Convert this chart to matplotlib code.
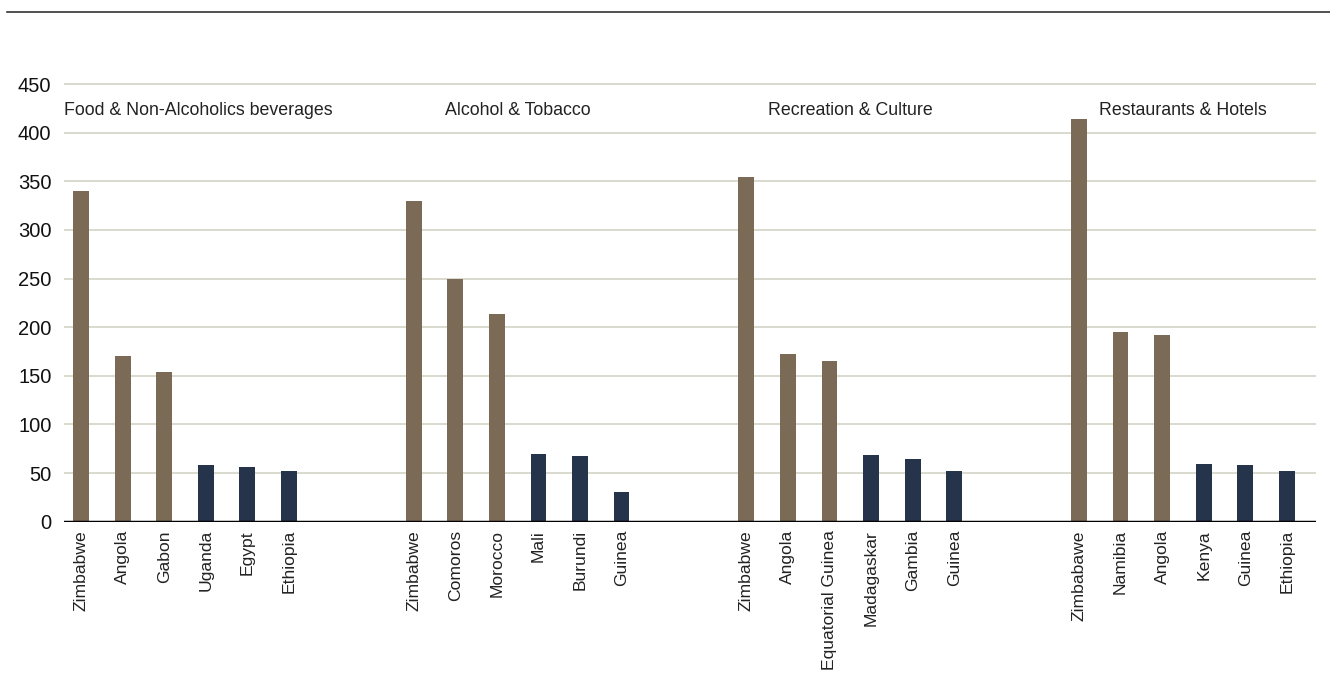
import numpy as np
import matplotlib.pyplot as plt

plt.rcParams['font.family'] = ['Liberation Sans', 'DejaVu Sans']

# price levels by spending category, six countries per category
groups = ['Food & Non-Alcoholics beverages', 'Alcohol & Tobacco',
          'Recreation & Culture', 'Restaurants & Hotels']
countries = [
    ['Zimbabwe', 'Angola', 'Gabon', 'Uganda', 'Egypt', 'Ethiopia'],
    ['Zimbabwe', 'Comoros', 'Morocco', 'Mali', 'Burundi', 'Guinea'],
    ['Zimbabwe', 'Angola', 'Equatorial Guinea', 'Madagaskar', 'Gambia', 'Guinea'],
    ['Zimbabawe', 'Namibia', 'Angola', 'Kenya', 'Guinea', 'Ethiopia'],
]
values = [
    [340, 170, 154, 58, 56, 52],
    [330, 250, 214, 70, 68, 31],
    [354, 172, 165, 69, 64, 52],
    [414, 195, 192, 59, 58, 52],
]
# first three of each group are the most expensive, last three the cheapest
high_col = '#7b6a55'
low_col = '#26344b'

fig = plt.figure(figsize=(13.3, 6.77), dpi=100)
ax = fig.add_axes([64/1330, 1 - 521.7/677, (1316-64)/1330, 437.7/677 * 500/450])

xs, labels = [], []
for g in range(len(groups)):
    pos = np.arange(6) + g * 8
    cols = [high_col]*3 + [low_col]*3
    ax.bar(pos, values[g], width=0.38, color=cols, zorder=3)
    xs.extend(pos)
    labels.extend(countries[g])
    if g == 0:
        ax.text(-0.41, 423, groups[g], ha='left', va='center', fontsize=12.8, color='#222222')
    else:
        ax.text(pos.mean(), 423, groups[g], ha='center', va='center', fontsize=12.8, color='#222222')

ax.set_xlim(-0.41, 29.7)
ax.set_ylim(0, 500)
ax.set_yticks(np.arange(0, 451, 50))
ax.set_xticks(xs)
ax.set_xticklabels(labels, rotation=90, fontsize=12.6, color='#222222')
ax.tick_params(axis='x', length=0, pad=6)
ax.tick_params(axis='y', length=0, pad=9, labelsize=14.5)
for t in ax.get_yticklabels():
    t.set_color('#111111')

for y in np.arange(50, 451, 50):
    ax.axhline(y, color='#d3d3c6', lw=1.2, zorder=1)
ax.axhline(0, color='black', lw=2.5, zorder=4)

for s in ax.spines.values():
    s.set_visible(False)

# rule across the top of the figure
fig.add_artist(plt.Line2D([7/1330, 1], [1 - 12/677]*2, color='#333333', lw=1.2))

fig.savefig('out.png', dpi=100)
